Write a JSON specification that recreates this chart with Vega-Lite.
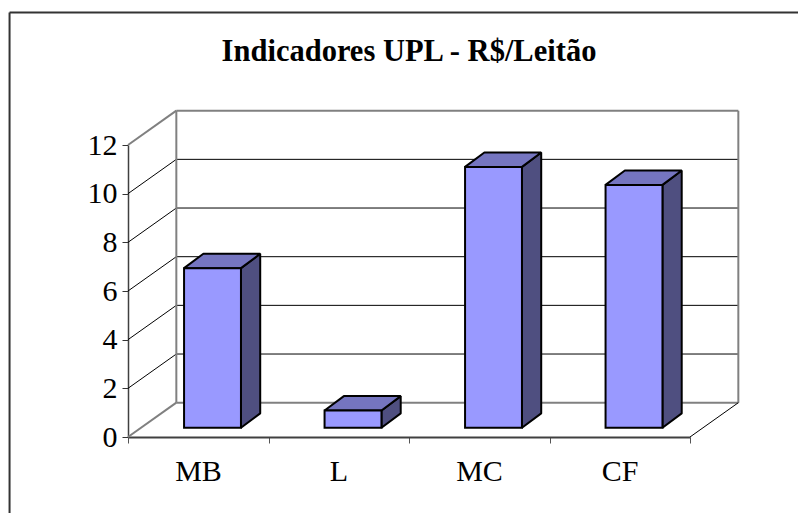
{
"$schema":"https://vega.github.io/schema/vega-lite/v6.json",
"width":562,"height":292,
"autosize":{"type":"none"},
"padding":{"left":128,"top":145,"right":108,"bottom":76},
"background":"white",
"view":{"stroke":null},
"title":{"text":"Indicadores UPL - R$/Leitão","font":"Liberation Serif","fontSize":30.5,"fontWeight":"bold","color":"black","anchor":"middle","offset":-56},
"config":{"font":"Liberation Serif","axis":{"grid":false,"title":null}},
"datasets":{
"bars":[{"cat":"MB","i":0,"value":6.56},{"cat":"L","i":1,"value":0.71},{"cat":"MC","i":2,"value":10.72},{"cat":"CF","i":3,"value":9.98}],
"grid":[{"v":0},{"v":2},{"v":4},{"v":6},{"v":8},{"v":10},{"v":12}]
},
"layer":[
{"data":{"values":[{"a":-0.843,"b":4.8,"c":17.45,"d":17.45},{"a":-0.843,"b":-0.843,"c":17.45,"d":-3.5}]},
"mark":{"type":"rule","color":"#333333","strokeWidth":2},
"encoding":{
"x":{"field":"a","type":"quantitative","title":null,"scale":{"domain":[0,4],"nice":false,"zero":false},
"axis":{"title":null,"grid":false,"values":[0,1,2,3,4],"labelExpr":"['MB','L','MC','CF',''][datum.value]","labelFont":"Liberation Serif","labelFontSize":30,"labelColor":"black","labelAngle":0,"labelAlign":"center","labelBaseline":"top","labelOffset":70,"labelPadding":13,"labelFlush":false,"labelOverlap":false,"tickColor":"#555555","tickSize":6,"tickWidth":1,"domainColor":"#404040","domainWidth":2}},
"x2":{"field":"b"},
"y":{"field":"c","type":"quantitative","title":null,"scale":{"domain":[0,12],"nice":false,"zero":false},
"axis":{"title":null,"grid":false,"values":[0,2,4,6,8,10,12],"labelFont":"Liberation Serif","labelFontSize":30,"labelColor":"black","labelPadding":5,"labelOverlap":false,"labelFlush":false,"tickColor":"#333333","tickSize":6,"tickWidth":1,"domainColor":"#404040","domainWidth":1.5}},
"y2":{"field":"d"}
}},
{"data":{"name":"grid"},
"transform":[{"calculate":"datum.v+1.41","as":"back"},{"filter":"datum.v>0 && datum.v<12"}],
"mark":{"type":"rule","color":"black","strokeWidth":1},
"encoding":{"x":{"datum":0,"type":"quantitative","title":null},"x2":{"datum":0.344},"y":{"field":"v","type":"quantitative","title":null},"y2":{"field":"back"}}},
{"data":{"name":"grid"},
"transform":[{"calculate":"datum.v+1.41","as":"back"},{"filter":"datum.v>0 && datum.v<12"}],
"mark":{"type":"rule","color":"black","strokeWidth":1},
"encoding":{"x":{"datum":0.344,"type":"quantitative","title":null},"x2":{"datum":4.344},"y":{"field":"back","type":"quantitative","title":null}}},
{"data":{"values":[{"a":0,"b":0.344,"c":0,"d":1.41},{"a":0,"b":0.344,"c":12,"d":13.41},{"a":0.344,"b":4.344,"c":1.41,"d":1.41},{"a":0.344,"b":4.344,"c":13.41,"d":13.41},{"a":0.344,"b":0.344,"c":1.41,"d":13.41},{"a":4.344,"b":4.344,"c":1.41,"d":13.41}]},
"mark":{"type":"rule","color":"#808080","strokeWidth":2},
"encoding":{"x":{"field":"a","type":"quantitative","title":null},"x2":{"field":"b"},"y":{"field":"c","type":"quantitative","title":null},"y2":{"field":"d"}}},
{"data":{"values":[{"a":4,"b":4.344,"c":0,"d":1.41}]},
"mark":{"type":"rule","color":"black","strokeWidth":1},
"encoding":{"x":{"field":"a","type":"quantitative","title":null},"x2":{"field":"b"},"y":{"field":"c","type":"quantitative","title":null},"y2":{"field":"d"}}},
{"data":{"name":"bars"},
"transform":[
{"calculate":"[datum.i+0.804,datum.i+0.941]","as":"xs"},
{"calculate":"[0.38+datum.value,0.97+datum.value]","as":"up"},
{"calculate":"[0.38,0.97]","as":"lo"},
{"flatten":["xs","up","lo"]}],
"mark":{"type":"area","orient":"vertical","fill":"#4F4F80","stroke":"black","strokeWidth":2,"strokeJoin":"bevel"},
"encoding":{"x":{"field":"xs","type":"quantitative","title":null},"y":{"field":"up","type":"quantitative","title":null},"y2":{"field":"lo"},"detail":{"field":"cat"}}},
{"data":{"name":"bars"},
"transform":[
{"calculate":"[datum.i+0.399,datum.i+0.5364,datum.i+0.804,datum.i+0.941]","as":"xs"},
{"calculate":"[0.38+datum.value,0.97+datum.value,0.97+datum.value,0.97+datum.value]","as":"up"},
{"calculate":"[0.38+datum.value,0.38+datum.value,0.38+datum.value,0.97+datum.value]","as":"lo"},
{"flatten":["xs","up","lo"]}],
"mark":{"type":"area","orient":"vertical","fill":"#7575C0","stroke":"black","strokeWidth":2,"strokeJoin":"bevel"},
"encoding":{"x":{"field":"xs","type":"quantitative","title":null},"y":{"field":"up","type":"quantitative","title":null},"y2":{"field":"lo"},"detail":{"field":"cat"}}},
{"data":{"name":"bars"},
"transform":[{"calculate":"datum.i+0.399","as":"x0"},{"calculate":"datum.i+0.804","as":"x1"},{"calculate":"0.38+datum.value","as":"top"},{"calculate":"0.38","as":"base"}],
"mark":{"type":"rect","fill":"#9999FF","stroke":"black","strokeWidth":2},
"encoding":{"x":{"field":"x0","type":"quantitative","title":null},"x2":{"field":"x1"},"y":{"field":"top","type":"quantitative","title":null},"y2":{"field":"base"}}}
]
}
